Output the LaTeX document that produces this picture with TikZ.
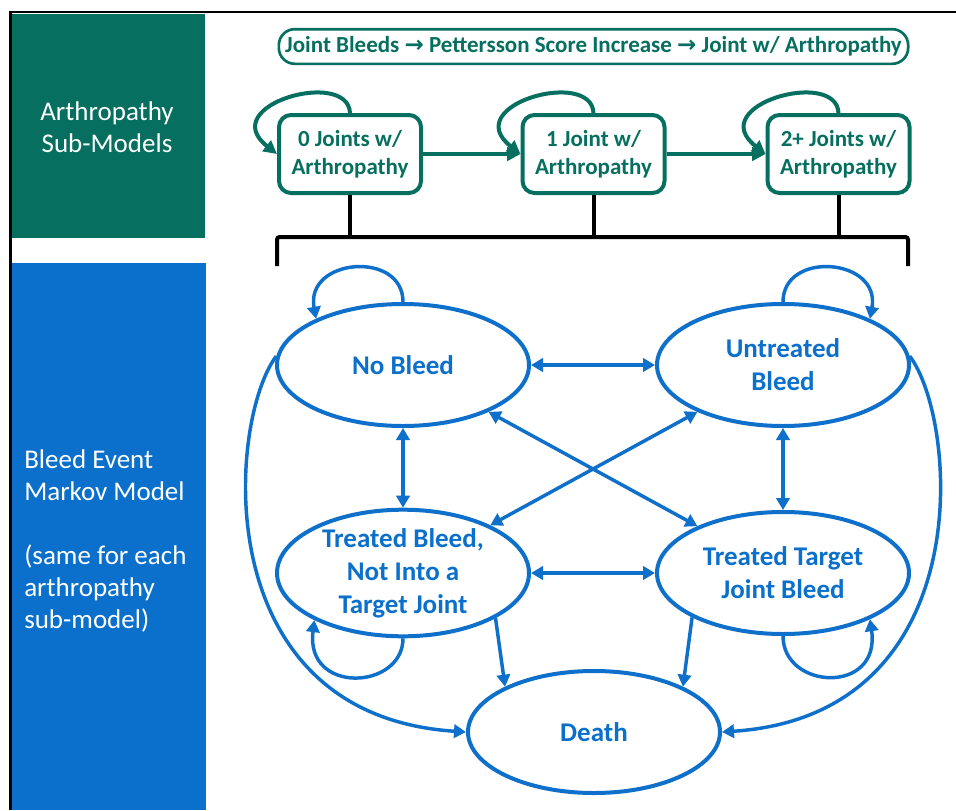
\documentclass[tikz,border=0pt]{standalone}
\usepackage{fontspec}
\setmainfont{Carlito}
\newfontfamily\arrowfont{DejaVu Sans}
\usetikzlibrary{arrows.meta,shapes.geometric}
\definecolor{tealc}{RGB}{6,111,95}
\definecolor{bluef}{RGB}{11,112,204}
\definecolor{bluel}{RGB}{14,112,202}
\begin{document}
\begin{tikzpicture}[x=0.75pt,y=-0.75pt,
  sidetext/.style={text=white,font=\fontsize{20.25}{24}\selectfont,inner sep=0pt},
  tbox/.style={draw=tealc,line width=3pt,rounded corners=9pt,minimum width=106.5pt,minimum height=58.5pt,
    font=\bfseries\fontsize{17.25}{21}\selectfont,text=tealc,align=center,inner sep=0pt},
  toplabel/.style={draw=tealc,line width=2pt,rounded corners=12pt,minimum width=472pt,minimum height=26pt,
    font=\bfseries\fontsize{17.25}{21}\selectfont,text=tealc,inner sep=0pt},
  est/.style={ellipse,draw=bluel,line width=3pt,minimum width=189pt,minimum height=91.5pt,inner sep=0pt,
    text=bluef,font=\bfseries\fontsize{20.25}{24.75}\selectfont,align=center},
  bl/.style={draw=bluel,line width=2.6pt},
  sgl/.style={-{Triangle[length=9pt,width=10pt]}},
  dbl/.style={{Triangle[length=9pt,width=10pt]}-{Triangle[length=9pt,width=10pt]}},
  tl/.style={draw=tealc,line width=3pt,-{Triangle[length=10pt,width=10pt]}},
  blk/.style={draw=black,line width=3pt,rounded corners=2pt}]
\useasboundingbox (0,0) rectangle (956,810);
\fill[white] (0,0) rectangle (956,810);
% frame
\draw[line width=1.6pt] (10.5,810) -- (10.5,12.3) -- (956,12.3);
% side panels
\fill[tealc] (12,13.5) rectangle (205,238);
\fill[bluef] (12,263) rectangle (206,810);
\node[sidetext,align=center] (arthtxt) at (107,127) {Arthropathy\\Sub-Models};
\node[sidetext,align=left,anchor=west] (bleedtxt) at (24,541) {Bleed Event\\Markov Model\\[24pt](same for each\\arthropathy\\sub-model)};
% top label
\node[toplabel] (lbl) at (593.5,46.5) {Joint Bleeds {\arrowfont\bfseries →} Pettersson Score Increase {\arrowfont\bfseries →} Joint w/ Arthropathy};
% arthropathy boxes
\node[tbox] (b1) at (350,154) {0 Joints w/\\Arthropathy};
\node[tbox] (b2) at (593.5,154) {1 Joint w/\\Arthropathy};
\node[tbox] (b3) at (838.5,154) {2+ Joints w/\\Arthropathy};
\draw[tl] (b1) -- (b2);
\draw[tl] (b2) -- (b3);
\draw[tl] (b1.north) .. controls +(-2,-45) and +(-62,-49) .. (b1.west);
\draw[tl] (b2.north) .. controls +(-2,-45) and +(-62,-49) .. (b2.west);
\draw[tl] (b3.north) .. controls +(-2,-45) and +(-62,-49) .. (b3.west);
% bracket
\coordinate (brl) at (277,266);
\coordinate (brr) at (908,266);
\coordinate (brm) at (593,237);
\draw[blk] (brl) -- (brl |- brm) -- (brr |- brm) -- (brr);
\draw[blk] (b1.south) -- (b1.south |- brm);
\draw[blk] (b2.south) -- (b2.south |- brm);
\draw[blk] (b3.south) -- (b3.south |- brm);
% markov states
\node[est] (nb) at (403,365) {No Bleed};
\node[est] (ub) at (783,365) {Untreated\\Bleed};
\node[est] (tb) at (403,573) {Treated Bleed,\\Not Into a\\Target Joint};
\node[est] (tt) at (783,573) {Treated Target\\Joint Bleed};
\node[est] (de) at (594,732) {Death};
% transitions
\draw[bl,dbl] (nb) -- (ub);
\draw[bl,dbl] (nb) -- (tb);
\draw[bl,dbl] (ub) -- (tt);
\draw[bl,dbl] (tb) -- (tt);
\draw[bl,dbl] (nb) -- (tt);
\draw[bl,dbl] (ub) -- (tb);
\draw[bl,sgl] (tb.-26) -- (de.153);
\draw[bl,sgl] (tt.206) -- (de.27);
\draw[bl,sgl] (nb.176) .. controls (228,420) and (205,715) .. (de.west);
\draw[bl,sgl] (ub.4) .. controls (958,420) and (981,715) .. (de.east);
% self loops
\draw[bl,sgl] (nb.north) .. controls (403,250) and (305,258) .. (nb.152);
\draw[bl,sgl] (ub.north) .. controls (783,250) and (881,258) .. (ub.28);
\draw[bl,sgl] (tb.south) .. controls (403,690) and (305,695) .. (tb.208);
\draw[bl,sgl] (tt.south) .. controls (783,690) and (881,695) .. (tt.-28);
\end{tikzpicture}
\end{document}
